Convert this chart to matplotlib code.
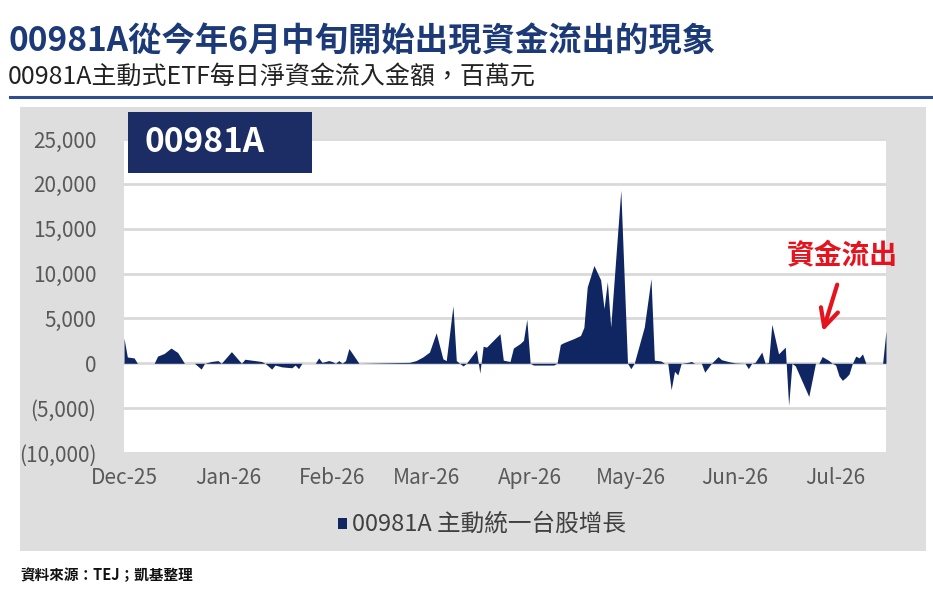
import numpy as np
import matplotlib
matplotlib.use("Agg")
import matplotlib.pyplot as plt
import matplotlib.dates as mdates
from matplotlib.patches import Rectangle
from matplotlib.ticker import FuncFormatter

plt.rcParams['font.family'] = ['Noto Sans CJK TC', 'DejaVu Sans']

# daily net flow of 00981A, million TWD
dates = [
    "2025-12-01", "2025-12-02", "2025-12-04", "2025-12-05", "2025-12-10", "2025-12-11",
    "2025-12-13", "2025-12-15", "2025-12-17", "2025-12-19", "2025-12-22", "2025-12-24",
    "2025-12-25", "2025-12-27", "2025-12-29", "2025-12-30", "2026-01-02", "2026-01-05",
    "2026-01-06", "2026-01-09", "2026-01-11", "2026-01-12", "2026-01-14", "2026-01-15",
    "2026-01-17", "2026-01-20", "2026-01-21", "2026-01-22", "2026-01-23", "2026-01-27",
    "2026-01-28", "2026-01-29", "2026-01-31", "2026-02-01", "2026-02-02", "2026-02-03",
    "2026-02-04", "2026-02-05", "2026-02-06", "2026-02-09", "2026-02-16", "2026-02-24",
    "2026-02-26", "2026-02-28", "2026-03-02", "2026-03-04", "2026-03-06", "2026-03-07",
    "2026-03-09", "2026-03-10", "2026-03-11", "2026-03-12", "2026-03-13", "2026-03-16",
    "2026-03-17", "2026-03-18", "2026-03-19", "2026-03-23", "2026-03-24", "2026-03-26",
    "2026-03-27", "2026-03-29", "2026-03-30", "2026-03-31", "2026-04-01", "2026-04-02",
    "2026-04-08", "2026-04-09", "2026-04-10", "2026-04-11", "2026-04-14", "2026-04-16",
    "2026-04-17", "2026-04-18", "2026-04-20", "2026-04-22", "2026-04-23", "2026-04-24",
    "2026-04-25", "2026-04-28", "2026-04-30", "2026-05-01", "2026-05-02", "2026-05-05",
    "2026-05-07", "2026-05-08", "2026-05-10", "2026-05-11", "2026-05-12", "2026-05-13",
    "2026-05-14", "2026-05-15", "2026-05-16", "2026-05-18", "2026-05-19", "2026-05-20",
    "2026-05-22", "2026-05-23", "2026-05-25", "2026-05-27", "2026-05-28", "2026-05-30",
    "2026-06-01", "2026-06-04", "2026-06-05", "2026-06-06", "2026-06-07", "2026-06-09",
    "2026-06-10", "2026-06-11", "2026-06-12", "2026-06-14", "2026-06-16", "2026-06-17",
    "2026-06-18", "2026-06-19", "2026-06-23", "2026-06-25", "2026-06-26", "2026-06-27",
    "2026-06-29", "2026-06-30", "2026-07-01", "2026-07-02", "2026-07-03", "2026-07-04",
    "2026-07-05", "2026-07-06", "2026-07-07", "2026-07-08", "2026-07-09", "2026-07-10",
    "2026-07-14", "2026-07-15", "2026-07-16",
]
flows = [
    2800, 700, 600, 0, 0, 800,
    1100, 1700, 1200, 0, 0, -650,
    0, 200, 300, 0, 1300, 0,
    450, 300, 200, 0, -650, -200,
    -400, -500, -200, -600, 0, 0,
    600, 100, 300, 200, 0, 300,
    0, 300, 1650, 0, 50, 100,
    300, 700, 1250, 3400, 500, 300,
    6400, 300, 0, -300, 0, 1500,
    -1100, 1900, 1800, 3300, 350, 200,
    1700, 2200, 2550, 4900, 0, -200,
    -200, 0, 2100, 2300, 2750, 3100,
    4000, 8500, 10900, 9300, 6100, 9100,
    4050, 19300, 0, -600, 0, 4050,
    9450, 350, 250, 0, 0, -2950,
    -900, -1300, 0, 100, 200, 0,
    0, -1000, 0, 750, 400, 200,
    50, 0, -600, 0, 100, 1250,
    0, 100, 4350, 1050, 1800, -4700,
    0, -300, -3700, 0, 0, 750,
    300, 0, -200, -1400, -1900, -1600,
    -1200, 0, 800, 600, 1050, 0,
    0, 0, 3600,
]
month_ticks = ["2025-12-01", "2026-01-01", "2026-02-01", "2026-03-01",
               "2026-04-01", "2026-05-01", "2026-06-01", "2026-07-01"]
y_ticks = [-10000, -5000, 0, 5000, 10000, 15000, 20000, 25000]

navy = '#0f2663'
grey_bg = '#dedede'
red = '#e5131d'

x = np.array(dates, dtype='datetime64[D]')
y = np.array(flows)

fig = plt.figure(figsize=(9.33, 6.11), dpi=100)
fig.patch.set_facecolor('white')

# grey panel behind the chart
fig.patches.append(Rectangle((0.0214, 0.0982), 0.971, 0.7267, transform=fig.transFigure,
                             facecolor=grey_bg, edgecolor='none', zorder=-5))

ax = fig.add_axes([0.1329, 0.2586, 0.8167, 0.5139])
ax.set_zorder(1)
ax.set_facecolor('white')
ax.fill_between(x, y, 0, color=navy, lw=0, zorder=3)

ax.set_xlim(np.datetime64("2025-12-01"), np.datetime64("2026-07-16"))
ax.set_ylim(-10000, 25000)
ax.set_yticks(y_ticks)
ax.yaxis.set_major_formatter(FuncFormatter(
    lambda v, p: "0" if v == 0 else (f"{v:,.0f}" if v > 0 else f"({-v:,.0f})")))
ax.set_xticks(np.array(month_ticks, dtype='datetime64[D]'))
ax.xaxis.set_major_formatter(mdates.DateFormatter('%b-%y'))
ax.yaxis.grid(True, color='#d9d9d9', lw=2.0, zorder=1)
ax.set_axisbelow(True)
for s in ax.spines.values():
    s.set_visible(False)
ax.tick_params(axis='y', length=0, pad=20, labelsize=15, labelcolor='#595959')
ax.tick_params(axis='x', length=0, pad=10, labelsize=15, labelcolor='#595959')

# annotation arrow
ax.annotate("", xy=(0.881, 0.4534), xycoords='figure fraction',
            xytext=(0.8982, 0.5385), textcoords='figure fraction',
            arrowprops=dict(arrowstyle='->', color=red, lw=3, mutation_scale=32),
            zorder=6)

# titles
fig.text(0.0086, 0.931, "00981A從今年6月中旬開始出現資金流出的現象", fontsize=24,
         fontweight='bold', color='#1c3a78', va='center')
fig.text(0.0086, 0.874, "00981A主動式ETF每日淨資金流入金額，百萬元", fontsize=18,
         color='#222222', va='center')
fig.add_artist(plt.Line2D([0.011, 1.0], [0.8412, 0.8412], transform=fig.transFigure,
                          color='#2d4f8f', lw=2.2))

# label box on top of plot
fig.patches.append(Rectangle((0.1372, 0.7169), 0.1972, 0.0998, transform=fig.transFigure,
                             facecolor='#1c2d66', edgecolor='none', zorder=5))
fig.text(0.1554, 0.7668, "00981A", fontsize=24, fontweight='bold', color='white',
         va='center', zorder=6)

fig.text(0.9025, 0.581, "資金流出", fontsize=20, fontweight='bold', color=red,
         ha='center', va='center', zorder=6)

# legend
fig.patches.append(Rectangle((0.3625, 0.1335), 0.0098, 0.018, transform=fig.transFigure,
                             facecolor=navy, edgecolor='none', zorder=5))
fig.text(0.3773, 0.1424, "00981A 主動統一台股增長", fontsize=17, color='#404040',
         va='center')

fig.text(0.0214, 0.0589, "資料來源：TEJ；凱基整理", fontsize=10.5, fontweight='bold',
         color='#111111', va='center')

fig.savefig("out.png", dpi=100)
